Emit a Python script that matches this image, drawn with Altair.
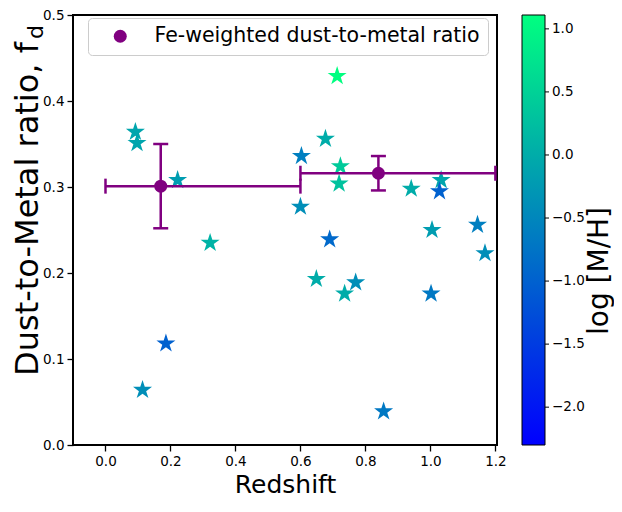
import altair as alt
import pandas as pd

# ---- data ----
z_star = [0.092, 0.097, 0.222, 0.713, 0.677, 0.603, 0.723, 0.719, 0.941, 1.033, 1.028, 0.600,
          0.322, 0.690, 1.005, 1.145, 1.168, 0.649, 0.770, 0.736, 1.002, 0.186, 0.114, 0.856]
fd_star = [0.364, 0.351, 0.308, 0.429, 0.356, 0.336, 0.324, 0.304, 0.298, 0.308, 0.295, 0.277,
           0.235, 0.239, 0.250, 0.256, 0.223, 0.193, 0.189, 0.176, 0.176, 0.118, 0.064, 0.039]
mh_star = [-0.1, -0.1, -0.2, 1.1, 0.0, -0.6, 0.4, 0.3, 0.0, -0.1, -1.0, -0.4,
           0.1, -0.9, -0.2, -0.6, -0.4, 0.0, -0.4, 0.0, -0.7, -1.0, -0.4, -0.7]

z_fe = [0.17, 0.84]
fd_fe = [0.301, 0.316]
z_lo = [0.0, 0.6]
z_hi = [0.6, 1.2]
fd_err = [0.049, 0.020]
fe_label = "Fe-weighted dust-to-metal ratio"

x_ticks = [0.0, 0.2, 0.4, 0.6, 0.8, 1.0, 1.2]
y_ticks = [0.0, 0.1, 0.2, 0.3, 0.4, 0.5]
cb_ticks = [-2.0, -1.5, -1.0, -0.5, 0.0, 0.5, 1.0]
cb_domain = [-2.3, 1.11]

PURPLE = "#800080"
FONT = "DejaVu Sans"
STAR = ("M0,-1L0.2245,-0.309L0.951,-0.309L0.363,0.118L0.588,0.809L0,0.382"
        "L-0.588,0.809L-0.363,0.118L-0.951,-0.309L-0.2245,-0.309Z")

W, H = 424, 430
CB_X, CB_W = 449, 23

stars = pd.DataFrame({"z": z_star, "fd": fd_star, "mh": mh_star})
fe = pd.DataFrame({
    "z": z_fe, "fd": fd_fe, "zlo": z_lo, "zhi": z_hi,
    "fdlo": [f - e for f, e in zip(fd_fe, fd_err)],
    "fdhi": [f + e for f, e in zip(fd_fe, fd_err)],
    "label": [fe_label] * len(z_fe),
})
xcaps = pd.DataFrame({"z": z_lo + z_hi, "fd": fd_fe + fd_fe})
ycaps = pd.DataFrame({"z": z_fe + z_fe,
                      "fd": list(fe["fdlo"]) + list(fe["fdhi"])})
cbt = pd.DataFrame({"v": cb_ticks})

xs = alt.Scale(domain=[-0.1, 1.205], nice=False, zero=False)
ys = alt.Scale(domain=[0.0, 0.5], nice=False, zero=False)
X = lambda f: alt.X(f, type="quantitative", scale=xs,
                    axis=alt.Axis(values=x_ticks, format=".1f", title="Redshift",
                                  titleFontSize=25, titleFontWeight="normal",
                                  titleBaseline="alphabetic", titleY=47))
Y = lambda f: alt.Y(f, type="quantitative", scale=ys,
                    axis=alt.Axis(values=y_ticks, format=".1f", title=None))

star_layer = alt.Chart(stars).mark_point(shape=STAR, filled=True, size=400, opacity=1).encode(
    x=X("z"), y=Y("fd"),
    color=alt.Color("mh:Q",
                    scale=alt.Scale(domain=cb_domain, range=["#0000ff", "#00ff80"],
                                    interpolate="rgb", nice=False, zero=False),
                    legend=alt.Legend(orient="none", legendX=CB_X, legendY=0,
                                      direction="vertical", title=None,
                                      gradientLength=H, gradientThickness=CB_W,
                                      gradientStrokeColor="black", gradientStrokeWidth=1,
                                      values=cb_ticks, format=".1f",
                                      labelExpr="replace(datum.label, '-', '\u2212')",
                                      labelFontSize=13.5, labelFont=FONT, labelColor="black",
                                      labelOffset=7, labelOverlap=False)),
)

hbar = alt.Chart(fe).mark_rule(color=PURPLE, strokeWidth=2.5).encode(
    x=X("zlo"), x2="zhi", y=Y("fd"))
vbar = alt.Chart(fe).mark_rule(color=PURPLE, strokeWidth=2.5).encode(
    x=X("z"), y=Y("fdlo"), y2="fdhi")
xcap = alt.Chart(xcaps).mark_tick(color=PURPLE, orient="vertical", size=15, thickness=2.5,
                                  opacity=1).encode(x=X("z"), y=Y("fd"))
ycap = alt.Chart(ycaps).mark_tick(color=PURPLE, orient="horizontal", size=15, thickness=2.5,
                                  opacity=1).encode(x=X("z"), y=Y("fd"))
fe_pts = alt.Chart(fe).mark_point(filled=True, size=169, color=PURPLE, opacity=1).encode(
    x=X("z"), y=Y("fd"),
    shape=alt.Shape("label:N", scale=alt.Scale(range=["circle"]),
                    legend=alt.Legend(orient="none", legendX=15, legendY=3, title=None,
                                      fillColor="white", strokeColor="#cccccc",
                                      cornerRadius=4, padding=8,
                                      symbolFillColor=PURPLE, symbolStrokeWidth=0,
                                      symbolSize=169, symbolOffset=14,
                                      labelFontSize=20.5, labelFont=FONT, labelColor="black",
                                      labelOffset=24, labelLimit=600)),
)

# small tick marks on the right edge of the colour bar
cb_tick_layer = alt.Chart(cbt).mark_rule(color="black", strokeWidth=1).encode(
    x=alt.value(CB_X + CB_W), x2=alt.value(CB_X + CB_W + 4),
    y=alt.Y("v:Q", scale=alt.Scale(domain=cb_domain, nice=False, zero=False), axis=None),
)

ytitle = alt.Chart(pd.DataFrame({"t": ["Dust-to-Metal ratio, f"]})).mark_text(
    angle=270, align="center", baseline="alphabetic", fontSize=32, font=FONT, color="black"
).encode(x=alt.value(-35), y=alt.value(194), text="t:N")
ysub = alt.Chart(pd.DataFrame({"t": ["d"]})).mark_text(
    angle=270, align="center", baseline="alphabetic", fontSize=22, font=FONT, color="black"
).encode(x=alt.value(-30), y=alt.value(17), text="t:N")
cbtitle = alt.Chart(pd.DataFrame({"t": ["log [M/H]"]})).mark_text(
    angle=270, align="center", baseline="alphabetic", fontSize=28, font=FONT, color="black"
).encode(x=alt.value(535), y=alt.value(256), text="t:N")

main = alt.layer(star_layer, hbar, vbar, xcap, ycap, fe_pts)
chart = alt.layer(main, cb_tick_layer, ytitle, ysub, cbtitle).properties(
    width=W, height=H,
    autosize=alt.AutoSizeParams(type="none"),
    padding={"left": 65, "top": 7, "right": 117, "bottom": 53},
).resolve_scale(color="independent", shape="independent", y="independent").configure_view(
    stroke="black", strokeWidth=2
).configure_axis(
    domain=False, grid=False, tickColor="black", tickWidth=1.3, tickSize=6,
    labelColor="black", labelFontSize=13.5, labelFont=FONT, labelPadding=3,
    titleFont=FONT, titleColor="black"
)

chart.save("out.html", embed_options={"renderer": "svg", "actions": False})
